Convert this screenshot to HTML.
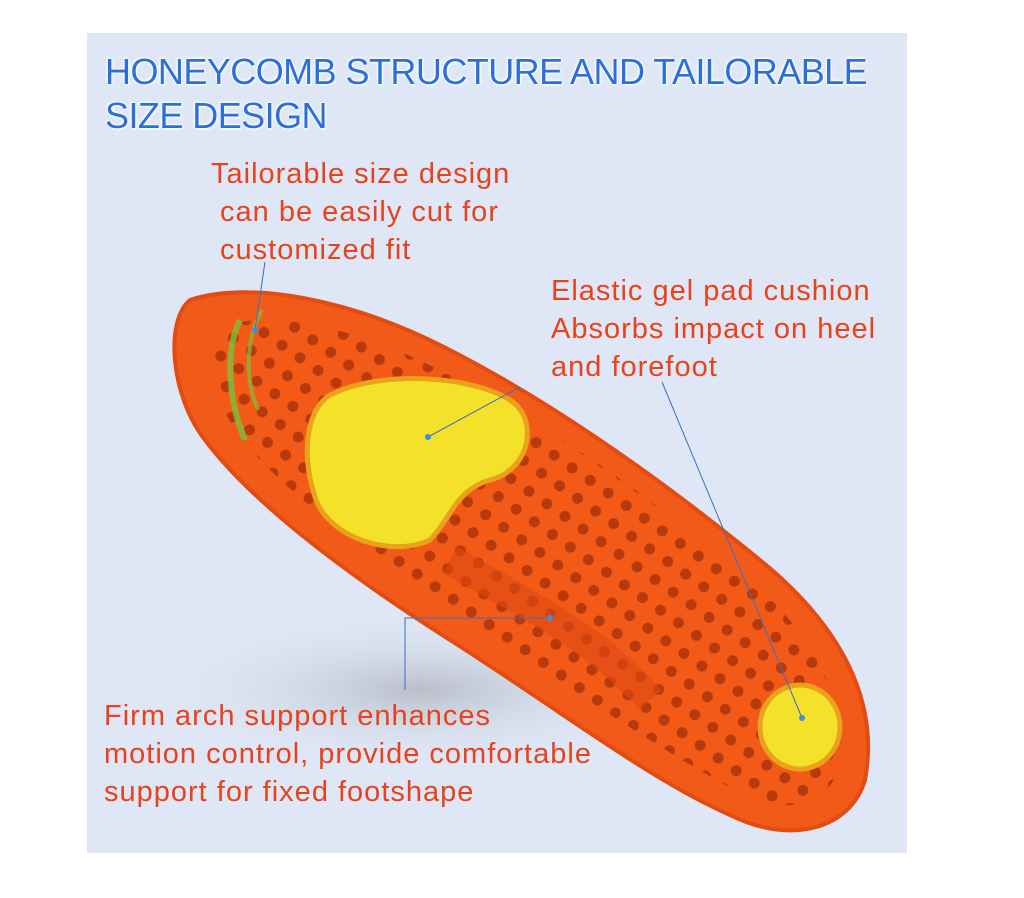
<!DOCTYPE html>
<html><head><meta charset="utf-8"><style>
body{margin:0;background:#fff;width:1024px;height:898px;position:relative;overflow:hidden;font-family:"Liberation Sans",sans-serif}
.panel{position:absolute;left:87px;top:33px;width:820px;height:820px;background:#dfe7f7}
.t{position:absolute;color:#e9421b;font-size:29px;line-height:38px;letter-spacing:1px;white-space:nowrap}
.h{position:absolute;left:105px;top:50px;color:#2c6fd8;font-size:36px;line-height:44px;letter-spacing:-0.55px;text-shadow:0 0 2px #fff,1px 1px 2px #fff,-1px -1px 2px #fff}
svg{position:absolute;left:0;top:0}
</style></head><body>
<div class="panel"></div>
<svg width="1024" height="898">
<defs>
<pattern id="holes" width="22" height="22" patternUnits="userSpaceOnUse" patternTransform="rotate(35)">
<rect width="22" height="22" fill="#f35a18"/><circle cx="11" cy="11" r="5.5" fill="#b83a0c"/></pattern>
<radialGradient id="sh" cx="0.5" cy="0.5" r="0.5"><stop offset="0" stop-color="#b9bec8"/><stop offset="1" stop-color="#dfe7f7" stop-opacity="0"/></radialGradient>
</defs>
<ellipse cx="420" cy="690" rx="280" ry="80" fill="url(#sh)"/>
<path d="M190,300 C250,280 350,300 440,345 C540,395 650,470 760,560 C840,625 880,700 865,780 C850,830 790,845 730,815 C650,780 560,710 450,640 C340,570 250,500 205,440 C170,395 165,320 190,300 Z" fill="#f25a1a" stroke="#e24c12" stroke-width="4"/>
<path d="M225,325 C280,310 360,330 440,370 C540,420 650,495 750,580 C820,640 850,710 838,770 C825,810 780,815 735,790 C650,745 560,680 460,615 C360,550 270,480 235,430 C210,390 205,340 225,325 Z" fill="url(#holes)"/>
<path d="M240,320 C225,350 228,400 245,440" stroke="#7cc13a" stroke-width="6" fill="none" opacity="0.8"/>
<path d="M262,310 C245,340 245,380 258,410" stroke="#7cc13a" stroke-width="4" fill="none" opacity="0.7"/>
<path d="M450,560 C520,600 600,640 650,700" stroke="#e04a12" stroke-width="30" fill="none" opacity="0.6"/>
<path d="M330,395 C380,370 470,375 510,400 C540,420 530,470 490,480 C455,490 450,520 430,540 C400,555 340,545 318,505 C300,460 305,410 330,395 Z" fill="#f3e12a" stroke="#e9a21a" stroke-width="5"/>
<ellipse cx="800" cy="727" rx="40" ry="42" fill="#f3e12a" stroke="#e9a21a" stroke-width="5"/>
<g stroke="#3b6fc0" stroke-width="1" fill="none">
<line x1="265" y1="262" x2="255" y2="330"/>
<line x1="520" y1="387" x2="428" y2="437"/>
<line x1="662" y1="382" x2="802" y2="718"/>
<polyline points="405,690 405,618 550,618"/>
</g>
<g fill="#3a8fe0"><circle cx="428" cy="437" r="3"/><circle cx="802" cy="718" r="3"/><circle cx="550" cy="618" r="3"/><circle cx="255" cy="330" r="3"/></g>
</svg>
<div class="h">HONEYCOMB STRUCTURE AND TAILORABLE<br>SIZE DESIGN</div>
<div class="t" style="left:211px;top:155px">Tailorable size design<br>&nbsp;can be easily cut for<br>&nbsp;customized fit</div>
<div class="t" style="left:551px;top:272px">Elastic gel pad cushion<br>Absorbs impact on heel<br>and forefoot</div>
<div class="t" style="left:104px;top:697px">Firm arch support enhances<br>motion control, provide comfortable<br>support for fixed footshape</div>
</body></html>
